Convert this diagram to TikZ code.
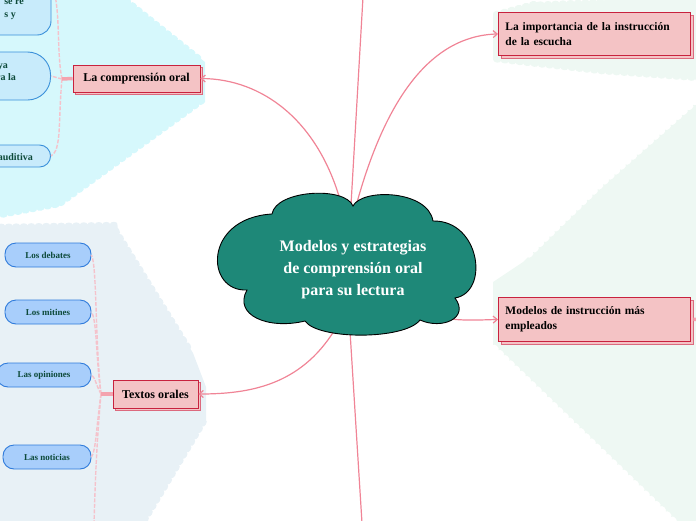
\documentclass[tikz,border=0pt]{standalone}
\usepackage{fontspec}
\setmainfont{Liberation Serif}
\usetikzlibrary{arrows.meta,shadows,decorations.pathmorphing}
\definecolor{cyanbg}{HTML}{D6F8FC}
\definecolor{greybg}{HTML}{E8F1F6}
\definecolor{mintbg}{HTML}{EEF8F3}
\definecolor{teal}{HTML}{1E8878}
\definecolor{pinkfill}{HTML}{F4C3C5}
\definecolor{pinkdraw}{HTML}{C8223E}
\definecolor{pinkshadow}{HTML}{DC6A7E}
\definecolor{linkc}{HTML}{F08496}
\definecolor{stubc}{HTML}{F4A3AF}
\definecolor{dashc}{HTML}{F5C2CB}
\definecolor{cpfill}{HTML}{C8EBFB}
\definecolor{cpdraw}{HTML}{3A90DA}
\definecolor{bpfill}{HTML}{A8CEFB}
\definecolor{bpdraw}{HTML}{2F7BDB}
\definecolor{bptext}{HTML}{0D4A3A}
\tikzset{
  wavy/.style={decorate,decoration={bumps,segment length=15pt,amplitude=2.2pt}},
  mainbox/.style={rectangle,fill=pinkfill,draw=pinkdraw,line width=0.9pt,
    font=\bfseries\fontsize{12}{15}\selectfont,text=black,
    copy shadow={shadow xshift=2.5pt,shadow yshift=-2.5pt,draw=pinkshadow}},
  link/.style={draw=linkc,line width=1.2pt},
  arr/.style={link,-{Straight Barb[length=4pt,width=7pt]}},
  stub/.style={draw=stubc,line width=3.5pt},
  dlink/.style={draw=dashc,line width=1.4pt,dash pattern=on 4pt off 1.5pt},
  cpill/.style={rectangle,fill=cpfill,draw=cpdraw,line width=0.9pt,inner sep=0pt},
  ctext/.style={font=\bfseries\fontsize{10}{12}\selectfont,text=bptext,inner sep=0pt},
  bpill/.style={rectangle,rounded corners=11pt,fill=bpfill,draw=bpdraw,line width=0.9pt,
    minimum height=24pt,inner sep=0pt,font=\bfseries\fontsize{9}{11}\selectfont,text=bptext},
}
\begin{document}
\begin{tikzpicture}[x=1pt,y=-1pt]
\useasboundingbox (0,0) rectangle (696,520);
\begin{scope}
\clip (0,0) rectangle (696,520);
% backgrounds
\fill[cyanbg] (-10,-10) -- (122,-10) -- (125,-2) decorate[wavy]{-- (205,62)} -- (205,100) decorate[wavy]{-- (60,205) -- (-10,218)} -- cycle;
\fill[greybg] (-10,226) decorate[wavy]{-- (113,224) -- (193,353)} -- (206,387) -- (206,420) decorate[wavy]{-- (140,530)} -- (-10,530) -- cycle;
\fill[mintbg] (493,60) -- (493,14) decorate[wavy]{-- (530,4) -- (710,-4)} -- (710,80) decorate[wavy]{-- (600,72) -- (493,60)} -- cycle;
\fill[mintbg] (710,90) decorate[wavy]{-- (600,187) -- (523,262)} -- (493,282) -- (493,345) decorate[wavy]{-- (690,535)} -- (710,535) -- cycle;

% coordinates on the cloud
\coordinate (cTop) at (351,205);
\coordinate (cTL) at (341,203);
\coordinate (cTR) at (356,206);
\coordinate (cR) at (443,318);
\coordinate (cBL) at (334,331);
\coordinate (cB) at (350,331);
\coordinate (upEnd) at (363,-3);
\coordinate (downEnd) at (362,523);

% main boxes
\node[mainbox,minimum width=127pt,minimum height=27pt] (comp) at (136.5,78.5) {La comprensión oral};
\node[mainbox,anchor=north west,minimum width=192pt,minimum height=43pt,text width=178pt,align=left,inner xsep=7pt,
  font=\bfseries\fontsize{11.5}{15}\selectfont] (imp) at (498,12) {La importancia de la instrucción\\de la escucha};
\node[mainbox,anchor=north west,minimum width=192pt,minimum height=44pt,text width=178pt,align=left,inner xsep=7pt,
  font=\bfseries\fontsize{11.5}{15}\selectfont] (mod) at (498,297) {Modelos de instrucción más\\empleados};
\node[mainbox,minimum width=85pt,minimum height=28pt] (tex) at (155.5,394) {Textos orales};

% main connectors
\draw[link] (cTop) -- (upEnd);
\draw[link] (cB) -- (downEnd);
\draw[arr] (cTL) .. controls (318,120) and (262,79) .. (comp.east);
\draw[arr] (cTR) .. controls (385,100) and (430,36) .. (imp.west);
\draw[arr] (cR) .. controls (462,321) and (478,320) .. (mod.west);
\draw[arr] (cBL) .. controls (300,385) and (250,394) .. (tex.east);

% cloud
\draw[fill=teal,draw=black,line width=0.9pt]
  (272,214) .. controls (276,190) and (345,186) .. (353,206)
  .. controls (362,188) and (428,190) .. (433,221)
  .. controls (480,220) and (490,292) .. (455,298)
  .. controls (470,318) and (442,330) .. (420,320)
  .. controls (405,340) and (318,340) .. (305,321)
  .. controls (268,330) and (233,315) .. (247,290)
  .. controls (205,292) and (203,218) .. (272,214) -- cycle;
\node[align=center,text=white,font=\bfseries\fontsize{16}{22}\selectfont] (center) at (353,270)
  {Modelos y estrategias\\de comprensión oral\\para su lectura};

% right stub of mod
\coordinate (modOut) at (700,319);
\draw[stub] ([xshift=2.5pt]mod.east) -- (modOut);

% cyan children (cut by the left edge)
\draw[cpill,rounded corners=14pt] (-20,-20) rectangle (51,35);
\node[cpill,rounded corners=23pt,minimum width=100pt,minimum height=48pt,anchor=east] (k2) at (51,76) {};
\node[cpill,rounded corners=11pt,minimum width=100pt,minimum height=22pt,anchor=east] (k3) at (51,156) {};
\coordinate (k1) at (51,18);
\node[ctext,anchor=base east] (t1a) at (24,4) {se re};
\node[ctext,anchor=base east] (t1b) at (16,17) {s y};
\node[ctext,anchor=base east] (t2a) at (8,68) {ya};
\node[ctext,anchor=base east] (t2b) at (16,80) {ra la};
\node[ctext,anchor=base east] (t3) at (33,160) {auditiva};

\coordinate (jc) at (62,79);
\coordinate (topOut) at (55,-5);
\draw[dlink] (jc) .. controls (57,55) and (60,20) .. (topOut);
\draw[dlink] (jc) .. controls (58,78) and (55,77) .. (k2.east);
\draw[dlink] (jc) .. controls (58,120) and (62,150) .. (k3.east);
\draw[stub] (comp.west) -- (jc);

% blue children
\node[bpill,minimum width=86pt] (deb) at (48,255) {Los debates};
\node[bpill,minimum width=86pt] (mit) at (48,312) {Los mitines};
\node[bpill,minimum width=94pt] (opi) at (44,375) {Las opiniones};
\node[bpill,minimum width=88pt] (not) at (47,457) {Las noticias};
\coordinate (jt) at (101,394);
\coordinate (botOut) at (94,525);
\draw[dlink] (jt) .. controls (95,340) and (97,265) .. (deb.east);
\draw[dlink] (jt) .. controls (96,360) and (97,320) .. (mit.east);
\draw[dlink] (jt) .. controls (96,385) and (95,377) .. (opi.east);
\draw[dlink] (jt) .. controls (96,430) and (96,450) .. (not.east);
\draw[dlink] (jt) .. controls (96,450) and (95,490) .. (botOut);
\draw[stub] (tex.west) -- (jt);
\end{scope}
\end{tikzpicture}
\end{document}
